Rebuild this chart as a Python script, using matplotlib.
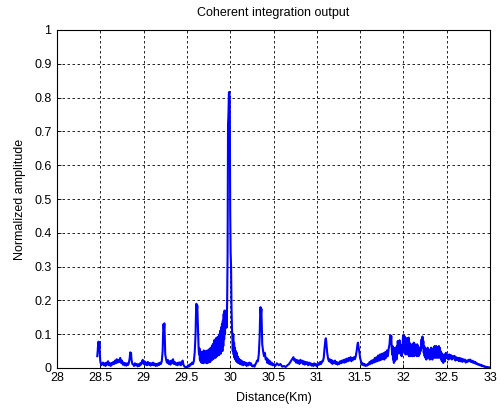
import matplotlib
matplotlib.use('Agg')
import numpy as np
import matplotlib.pyplot as plt

# 28.46 - 29.20 : leading noise with small peaks
seg_start = [
    (28.465, 0.035), (28.47, 0.05), (28.475, 0.07), (28.48, 0.078), (28.485, 0.06),
    (28.49, 0.075), (28.495, 0.04), (28.50, 0.02), (28.51, 0.008), (28.52, 0.012),
    (28.53, 0.016), (28.54, 0.008), (28.55, 0.014), (28.56, 0.006), (28.57, 0.016),
    (28.58, 0.01), (28.59, 0.02), (28.60, 0.008), (28.61, 0.014), (28.62, 0.006),
    (28.63, 0.015), (28.64, 0.01), (28.65, 0.018), (28.66, 0.012), (28.67, 0.022),
    (28.68, 0.014), (28.69, 0.026), (28.70, 0.016), (28.71, 0.024), (28.72, 0.018),
    (28.73, 0.03), (28.74, 0.015), (28.75, 0.022), (28.76, 0.01), (28.77, 0.016),
    (28.78, 0.008), (28.79, 0.014), (28.80, 0.007), (28.81, 0.014), (28.82, 0.009),
    (28.83, 0.015), (28.84, 0.03), (28.845, 0.046), (28.85, 0.04), (28.855, 0.045),
    (28.86, 0.025), (28.87, 0.012), (28.88, 0.01), (28.89, 0.006), (28.90, 0.014),
    (28.91, 0.008), (28.92, 0.012), (28.93, 0.005), (28.94, 0.011), (28.95, 0.006),
    (28.96, 0.014), (28.97, 0.01), (28.98, 0.018), (28.99, 0.024), (29.00, 0.012),
    (29.01, 0.02), (29.02, 0.01), (29.03, 0.016), (29.04, 0.008), (29.05, 0.018),
    (29.06, 0.01), (29.07, 0.015), (29.08, 0.007), (29.09, 0.014), (29.10, 0.009),
    (29.11, 0.016), (29.12, 0.008), (29.13, 0.013), (29.14, 0.006), (29.15, 0.012),
    (29.16, 0.007), (29.17, 0.014), (29.18, 0.009), (29.19, 0.016), (29.20, 0.012),
]

# 29.21 - 29.64 : peaks at 29.24 and 29.61
seg_side = [
    (29.21, 0.02), (29.22, 0.05), (29.225, 0.1), (29.23, 0.13), (29.235, 0.115),
    (29.24, 0.132), (29.245, 0.09), (29.25, 0.04), (29.26, 0.025), (29.27, 0.016),
    (29.28, 0.024), (29.29, 0.012), (29.30, 0.02), (29.31, 0.01), (29.32, 0.022),
    (29.33, 0.014), (29.34, 0.026), (29.35, 0.012), (29.36, 0.018), (29.37, 0.01),
    (29.38, 0.014), (29.39, 0.008), (29.40, 0.016), (29.41, 0.01), (29.42, 0.017),
    (29.43, 0.008), (29.44, 0.014), (29.45, 0.022), (29.46, 0.01), (29.47, 0.005),
    (29.48, 0.003), (29.49, 0.002), (29.50, 0.004), (29.51, 0.003), (29.52, 0.008),
    (29.53, 0.005), (29.54, 0.012), (29.55, 0.01), (29.56, 0.016), (29.57, 0.012),
    (29.58, 0.02), (29.59, 0.045), (29.60, 0.1), (29.605, 0.16), (29.61, 0.19),
    (29.615, 0.17), (29.62, 0.185), (29.625, 0.14), (29.63, 0.1), (29.635, 0.06),
    (29.64, 0.04),
]

# 29.645 - 30.10 : main target
seg_main = [
    (29.645, 0.058), (29.65, 0.025), (29.655, 0.048), (29.66, 0.018), (29.665, 0.042),
    (29.67, 0.015), (29.675, 0.048), (29.68, 0.018), (29.685, 0.042), (29.69, 0.014),
    (29.695, 0.052), (29.70, 0.02), (29.705, 0.046), (29.71, 0.016), (29.715, 0.05),
    (29.72, 0.018), (29.725, 0.044), (29.73, 0.014), (29.735, 0.052), (29.74, 0.02),
    (29.745, 0.048), (29.75, 0.016), (29.755, 0.055), (29.76, 0.022), (29.765, 0.052),
    (29.77, 0.018), (29.775, 0.06), (29.78, 0.028), (29.785, 0.058), (29.79, 0.024),
    (29.795, 0.068), (29.80, 0.026), (29.805, 0.072), (29.81, 0.028), (29.815, 0.082),
    (29.82, 0.032), (29.825, 0.078), (29.83, 0.03), (29.835, 0.088), (29.84, 0.036),
    (29.845, 0.082), (29.85, 0.035), (29.855, 0.092), (29.86, 0.042), (29.865, 0.088),
    (29.87, 0.038), (29.875, 0.1), (29.88, 0.046), (29.885, 0.11), (29.89, 0.042),
    (29.895, 0.12), (29.90, 0.056), (29.905, 0.13), (29.91, 0.05), (29.915, 0.14),
    (29.92, 0.065), (29.925, 0.16), (29.93, 0.085), (29.935, 0.17), (29.94, 0.1),
    (29.945, 0.15), (29.95, 0.12), (29.955, 0.17), (29.96, 0.12), (29.965, 0.2),
    (29.97, 0.34), (29.975, 0.72), (29.98, 0.75), (29.985, 0.815), (29.99, 0.817),
    (29.995, 0.8), (30.00, 0.46), (30.005, 0.34), (30.01, 0.3), (30.015, 0.18),
    (30.02, 0.12), (30.025, 0.09), (30.03, 0.05), (30.035, 0.1), (30.04, 0.04),
    (30.045, 0.075), (30.05, 0.03), (30.055, 0.06), (30.06, 0.025), (30.065, 0.05),
    (30.07, 0.02), (30.075, 0.045), (30.08, 0.018), (30.085, 0.035), (30.09, 0.015),
    (30.10, 0.028),
]

# 30.11 - 31.00 : peak at 30.35, then low clutter
seg_mid = [
    (30.11, 0.012), (30.12, 0.024), (30.13, 0.01), (30.14, 0.02), (30.15, 0.008),
    (30.16, 0.018), (30.17, 0.01), (30.18, 0.016), (30.19, 0.006), (30.20, 0.014),
    (30.21, 0.008), (30.22, 0.016), (30.23, 0.01), (30.24, 0.014), (30.25, 0.006),
    (30.26, 0.005), (30.27, 0.008), (30.28, 0.004), (30.29, 0.01), (30.30, 0.015),
    (30.31, 0.022), (30.32, 0.02), (30.33, 0.04), (30.34, 0.09), (30.345, 0.15),
    (30.35, 0.18), (30.355, 0.16), (30.36, 0.175), (30.365, 0.12), (30.37, 0.07),
    (30.38, 0.05), (30.39, 0.035), (30.40, 0.045), (30.41, 0.025), (30.42, 0.03),
    (30.43, 0.015), (30.44, 0.025), (30.45, 0.012), (30.46, 0.02), (30.47, 0.01),
    (30.48, 0.016), (30.49, 0.008), (30.50, 0.012), (30.52, 0.006), (30.54, 0.014),
    (30.56, 0.008), (30.58, 0.012), (30.60, 0.004), (30.62, 0.006), (30.64, 0.003),
    (30.66, 0.008), (30.68, 0.012), (30.70, 0.02), (30.72, 0.028), (30.73, 0.032),
    (30.74, 0.022), (30.75, 0.026), (30.76, 0.016), (30.77, 0.024), (30.78, 0.014),
    (30.79, 0.022), (30.80, 0.012), (30.81, 0.024), (30.82, 0.016), (30.83, 0.022),
    (30.84, 0.012), (30.85, 0.02), (30.86, 0.01), (30.87, 0.018), (30.88, 0.012),
    (30.89, 0.017), (30.90, 0.008), (30.91, 0.016), (30.92, 0.01), (30.93, 0.014),
    (30.94, 0.007), (30.95, 0.012), (30.96, 0.006), (30.97, 0.014), (30.98, 0.008),
    (30.99, 0.012), (31.00, 0.005),
]

# 31.01 - 31.83 : peaks at 31.10 and 31.48
seg_right = [
    (31.01, 0.008), (31.02, 0.014), (31.03, 0.01), (31.04, 0.018), (31.05, 0.012),
    (31.06, 0.02), (31.07, 0.02), (31.08, 0.03), (31.09, 0.06), (31.10, 0.085),
    (31.105, 0.088), (31.11, 0.075), (31.12, 0.045), (31.13, 0.028), (31.14, 0.02),
    (31.15, 0.026), (31.16, 0.016), (31.17, 0.024), (31.18, 0.012), (31.19, 0.02),
    (31.20, 0.014), (31.21, 0.022), (31.22, 0.012), (31.23, 0.018), (31.24, 0.01),
    (31.25, 0.016), (31.26, 0.012), (31.27, 0.02), (31.28, 0.014), (31.29, 0.022),
    (31.30, 0.016), (31.31, 0.024), (31.32, 0.016), (31.33, 0.026), (31.34, 0.018),
    (31.35, 0.028), (31.36, 0.02), (31.37, 0.03), (31.38, 0.022), (31.39, 0.032),
    (31.40, 0.02), (31.41, 0.03), (31.42, 0.024), (31.43, 0.032), (31.44, 0.026),
    (31.45, 0.035), (31.46, 0.05), (31.47, 0.07), (31.475, 0.075), (31.48, 0.065),
    (31.49, 0.05), (31.50, 0.03), (31.51, 0.02), (31.52, 0.01), (31.53, 0.014),
    (31.54, 0.008), (31.55, 0.012), (31.56, 0.006), (31.57, 0.01), (31.58, 0.007),
    (31.59, 0.012), (31.60, 0.01), (31.61, 0.018), (31.62, 0.012), (31.63, 0.022),
    (31.64, 0.014), (31.65, 0.024), (31.66, 0.016), (31.67, 0.03), (31.68, 0.018),
    (31.69, 0.032), (31.70, 0.02), (31.71, 0.037), (31.72, 0.022), (31.73, 0.04),
    (31.74, 0.024), (31.75, 0.042), (31.76, 0.026), (31.77, 0.044), (31.78, 0.025),
    (31.79, 0.047), (31.80, 0.03), (31.81, 0.052), (31.82, 0.035), (31.83, 0.057),
]

# 31.84 - 32.445 : broad clutter
seg_clutter = [
    (31.84, 0.07), (31.845, 0.09), (31.85, 0.097), (31.855, 0.08), (31.86, 0.095),
    (31.865, 0.06), (31.87, 0.04), (31.875, 0.065), (31.88, 0.025), (31.885, 0.055),
    (31.89, 0.015), (31.895, 0.05), (31.90, 0.02), (31.905, 0.06), (31.91, 0.03),
    (31.915, 0.055), (31.92, 0.025), (31.925, 0.065), (31.93, 0.04), (31.935, 0.08),
    (31.94, 0.045), (31.945, 0.075), (31.95, 0.05), (31.955, 0.082), (31.96, 0.045),
    (31.965, 0.07), (31.97, 0.04), (31.975, 0.06), (31.98, 0.035), (31.985, 0.05),
    (31.99, 0.06), (31.995, 0.09), (32.00, 0.097), (32.005, 0.06), (32.01, 0.095),
    (32.015, 0.05), (32.02, 0.09), (32.025, 0.04), (32.03, 0.085), (32.035, 0.045),
    (32.04, 0.088), (32.045, 0.04), (32.05, 0.08), (32.055, 0.05), (32.06, 0.09),
    (32.065, 0.035), (32.07, 0.075), (32.075, 0.04), (32.08, 0.07), (32.085, 0.035),
    (32.09, 0.065), (32.095, 0.045), (32.10, 0.07), (32.105, 0.035), (32.11, 0.06),
    (32.115, 0.04), (32.12, 0.075), (32.125, 0.035), (32.13, 0.065), (32.135, 0.045),
    (32.14, 0.07), (32.145, 0.04), (32.15, 0.06), (32.155, 0.035), (32.16, 0.07),
    (32.165, 0.04), (32.17, 0.065), (32.175, 0.035), (32.18, 0.06), (32.185, 0.04),
    (32.19, 0.055), (32.20, 0.05), (32.205, 0.07), (32.21, 0.085), (32.215, 0.065),
    (32.22, 0.093), (32.225, 0.06), (32.23, 0.08), (32.235, 0.045), (32.24, 0.065),
    (32.245, 0.035), (32.25, 0.06), (32.255, 0.03), (32.26, 0.055), (32.265, 0.025),
    (32.27, 0.05), (32.275, 0.03), (32.28, 0.06), (32.285, 0.035), (32.29, 0.055),
    (32.295, 0.03), (32.30, 0.05), (32.305, 0.025), (32.31, 0.055), (32.315, 0.03),
    (32.32, 0.06), (32.325, 0.035), (32.33, 0.055), (32.335, 0.025), (32.34, 0.05),
    (32.345, 0.03), (32.35, 0.06), (32.355, 0.035), (32.36, 0.065), (32.365, 0.03),
    (32.37, 0.06), (32.375, 0.035), (32.38, 0.065), (32.385, 0.03), (32.39, 0.06),
    (32.395, 0.035), (32.40, 0.055), (32.405, 0.03), (32.41, 0.065), (32.415, 0.035),
    (32.42, 0.06), (32.425, 0.03), (32.43, 0.05), (32.435, 0.025), (32.44, 0.045),
    (32.445, 0.02),
]

# 32.45 - 33.00 : tail
seg_tail = [
    (32.45, 0.04), (32.46, 0.015), (32.47, 0.04), (32.48, 0.02), (32.49, 0.045),
    (32.50, 0.03), (32.51, 0.04), (32.52, 0.025), (32.53, 0.04), (32.54, 0.028),
    (32.55, 0.038), (32.56, 0.025), (32.57, 0.035), (32.58, 0.028), (32.59, 0.036),
    (32.60, 0.022), (32.61, 0.032), (32.62, 0.024), (32.63, 0.03), (32.64, 0.02),
    (32.65, 0.03), (32.66, 0.02), (32.67, 0.028), (32.68, 0.018), (32.69, 0.026),
    (32.70, 0.02), (32.71, 0.025), (32.72, 0.016), (32.73, 0.022), (32.74, 0.018),
    (32.75, 0.024), (32.76, 0.02), (32.77, 0.025), (32.78, 0.018), (32.79, 0.022),
    (32.80, 0.016), (32.81, 0.02), (32.82, 0.014), (32.83, 0.018), (32.84, 0.012),
    (32.85, 0.014), (32.86, 0.01), (32.87, 0.012), (32.88, 0.008), (32.89, 0.01),
    (32.90, 0.006), (32.91, 0.008), (32.92, 0.005), (32.93, 0.006), (32.94, 0.003),
    (32.95, 0.004), (32.96, 0.002), (32.97, 0.003), (32.98, 0.002), (32.99, 0.002),
]

x_ticks = [28, 28.5, 29, 29.5, 30, 30.5, 31, 31.5, 32, 32.5, 33]
y_ticks = [0, 0.1, 0.2, 0.3, 0.4, 0.5, 0.6, 0.7, 0.8, 0.9, 1]

pts = np.array(seg_start + seg_side + seg_main + seg_mid + seg_right + seg_clutter + seg_tail)
distance = pts[:, 0]
amplitude = pts[:, 1]

plt.rcParams['font.family'] = ['Liberation Sans', 'DejaVu Sans']

fig = plt.figure(figsize=(5.01, 4.08), dpi=100)
ax = fig.add_axes([57 / 501, 40 / 408, 433 / 501, 338 / 408])

ax.plot(distance, amplitude, color='#0000ff', linewidth=1.5, zorder=3)

ax.set_xlim(28, 33)
ax.set_ylim(0, 1)
ax.set_xticks(x_ticks)
ax.set_xticklabels([f'{t:g}' for t in x_ticks])
ax.set_yticks(y_ticks)
ax.set_yticklabels([f'{t:g}' for t in y_ticks])
ax.tick_params(direction='in', length=3, width=0.6, labelsize=9)
ax.tick_params(axis='x', pad=3)
ax.tick_params(axis='y', pad=4)

ax.grid(True, color='black', linestyle=(0, (3, 3)), linewidth=0.6)
for s in ax.spines.values():
    s.set_linewidth(0.8)

ax.set_title('Coherent integration output', fontsize=9, pad=10)
ax.set_xlabel('Distance(Km)', fontsize=9, labelpad=6)
ax.set_ylabel('Normalized amplitude', fontsize=9, labelpad=6)

plt.savefig('out.png', dpi=100)
plt.close()
